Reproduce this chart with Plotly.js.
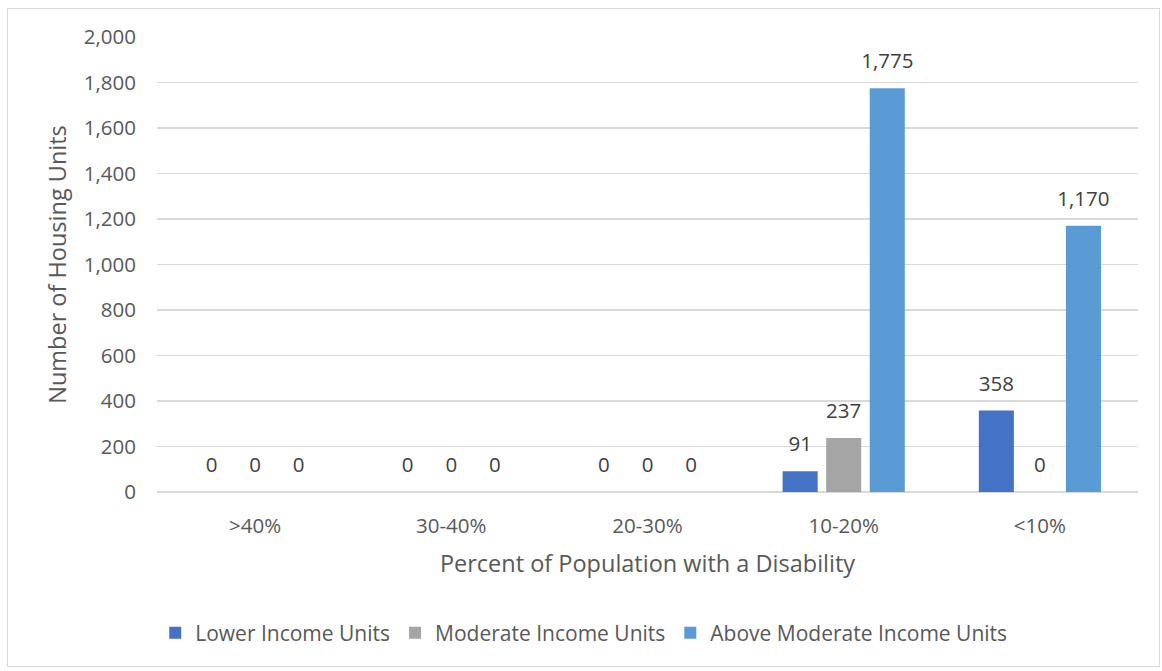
<!DOCTYPE html>
<html><head><meta charset="utf-8">
<script src="https://cdn.plot.ly/plotly-3.0.1.min.js"></script>
<style>
html,body{margin:0;padding:0;background:#fff;}
#frame{position:absolute;left:7px;top:8px;width:1153px;height:659px;border:1px solid #d9d9d9;box-sizing:border-box;}
#chart{position:absolute;left:0;top:0;width:1162px;height:671px;}
</style></head>
<body>
<div id="frame"></div>
<div id="chart"></div>
<script>
const categories = [">40%", "30-40%", "20-30%", "10-20%", "<10%"];
const lowerIncome = [0, 0, 0, 91, 358];
const moderateIncome = [0, 0, 0, 237, 0];
const aboveModerate = [0, 0, 0, 1775, 1170];
const seriesNames = ["Lower Income Units", "Moderate Income Units", "Above Moderate Income Units"];
const colors = ["#4472C4", "#A5A5A5", "#5B9BD5"];
const fontFam = "'Open Sans', sans-serif";
const txtColor = "#595959";
const GAP = 0.334;

const fmt = v => v.toLocaleString('en-US');
const series = [lowerIncome, moderateIncome, aboveModerate];
const bars = series.map((vals, i) => ({
  type: 'bar', x: categories, y: vals, name: seriesNames[i],
  marker: {color: colors[i]}, offsetgroup: 'g' + i,
  hoverinfo: 'skip'
}));
const labels = series.map((vals, i) => ({
  type: 'scatter', mode: 'markers+text', x: categories, y: vals,
  offsetgroup: 'g' + i, showlegend: false, cliponaxis: false,
  marker: {size: 22, opacity: 0, color: colors[i]},
  text: vals.map(fmt), textposition: 'top center',
  textfont: {family: fontFam, size: 20.5, color: '#404040'},
  hoverinfo: 'skip'
}));

const layout = {
  width: 1162, height: 671,
  margin: {l: 157, r: 24, t: 37, b: 179, autoexpand: false},
  paper_bgcolor: 'rgba(0,0,0,0)', plot_bgcolor: 'rgba(0,0,0,0)',
  barmode: 'group', bargap: GAP, bargroupgap: 0.195,
  scattermode: 'group', scattergap: GAP,
  font: {family: fontFam, color: txtColor, size: 20},
  xaxis: {
    type: 'category', showgrid: false, showline: false, ticks: '', tickangle: 0, automargin: false,
    ticklabelstandoff: 19,
    tickfont: {size: 20.5, color: txtColor},
    title: {text: 'Percent of Population with a Disability', font: {size: 23.5, color: txtColor}, standoff: 18}
  },
  yaxis: {
    range: [0, 2000], dtick: 200, tickformat: ',d', automargin: false,
    gridcolor: '#d9d9d9', gridwidth: 1.3, zeroline: true, zerolinecolor: '#d9d9d9', zerolinewidth: 1.3,
    showline: false, ticks: '', ticklabelstandoff: 20,
    tickfont: {size: 20.5, color: txtColor},
    title: {text: 'Number of Housing Units', font: {size: 23.5, color: txtColor}, standoff: 10}
  },
  legend: {orientation: 'h', x: 0.435, xanchor: 'center', y: -0.31, yanchor: 'middle',
    font: {size: 21, color: txtColor}, itemwidth: 30, traceorder: 'normal'},
  showlegend: true
};
Plotly.newPlot('chart', bars.concat(labels), layout, {staticPlot: true, displayModeBar: false});
</script>
</body></html>
